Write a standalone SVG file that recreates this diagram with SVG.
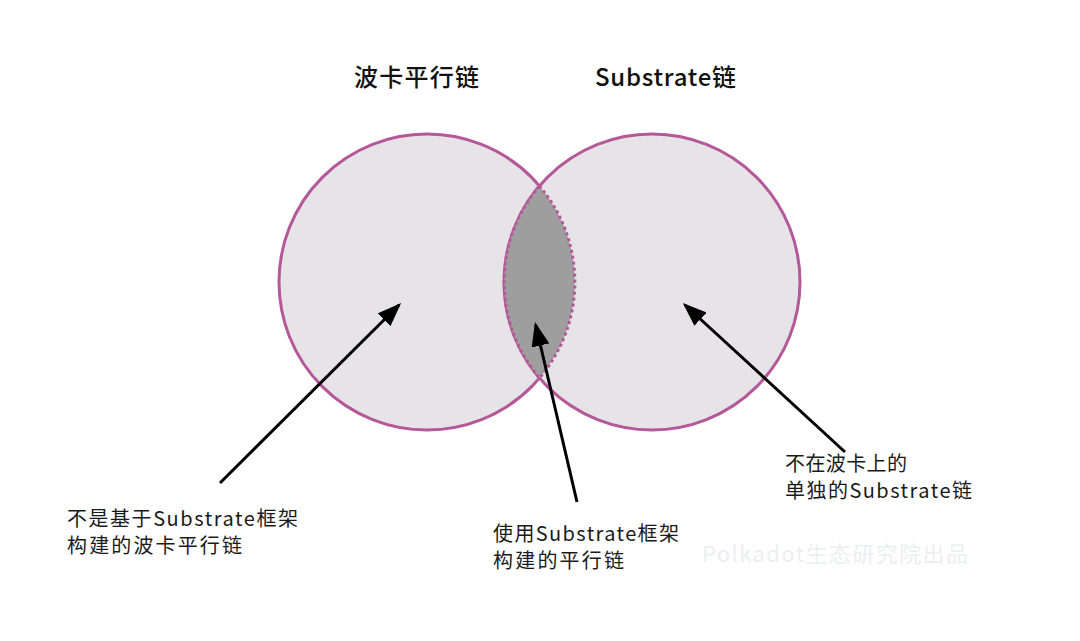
<svg xmlns="http://www.w3.org/2000/svg" width="1080" height="641" viewBox="0 0 1080 641">
<style>
.title{font-family:"Noto Sans CJK SC","Noto Sans",sans-serif;font-size:24px;font-weight:500;fill:#111}
.lbl{font-family:"Noto Sans CJK SC","Noto Sans",sans-serif;font-size:20px;fill:#1a1a1a}
.wm{font-family:"Noto Sans CJK SC","Noto Sans",sans-serif;font-size:22px;fill:#eceef1}
.circ{fill:#e6e4e6;stroke:#b5589a;stroke-width:3}
.arr{stroke:#000;stroke-width:3;fill:none;marker-end:url(#ah)}
</style>
<defs>
<marker id="ah" markerWidth="8" markerHeight="6" refX="7" refY="3" orient="auto" markerUnits="strokeWidth">
<path d="M0,0 L8,3 L0,6 Z" fill="#000"/>
</marker>
</defs>
<rect width="1080" height="641" fill="#fff"/>
<g id="title-left"><text class="title" x="354" y="86" textLength="125">波卡平行链</text></g>
<g id="title-right"><text class="title" x="595" y="86" textLength="141">Substrate链</text></g>
<g id="circle-left"><circle class="circ" cx="427" cy="282" r="148"/></g>
<g id="circle-right"><circle class="circ" cx="652" cy="282" r="148"/></g>
<g id="lens"><path d="M539.5,186 A148,148 0 0 1 539.5,378 A148,148 0 0 1 539.5,186 Z" fill="#9e9e9e" stroke="#b5589a" stroke-width="3" stroke-dasharray="3 3"/></g>
<g id="connectors">
<line class="arr" x1="220" y1="483" x2="399" y2="305"/>
<line class="arr" x1="577" y1="502" x2="535.7" y2="325"/>
<line class="arr" x1="845" y1="452" x2="685" y2="305"/>
</g>
<g id="label-left">
<text class="lbl" x="67" y="526" textLength="231">不是基于Substrate框架</text>
<text class="lbl" x="67" y="553" textLength="175">构建的波卡平行链</text>
</g>
<g id="label-middle">
<text class="lbl" x="493" y="541" textLength="186">使用Substrate框架</text>
<text class="lbl" x="493" y="568" textLength="131">构建的平行链</text>
</g>
<g id="label-right">
<text class="lbl" x="785" y="471" textLength="122">不在波卡上的</text>
<text class="lbl" x="785" y="498" textLength="187">单独的Substrate链</text>
</g>
<g id="watermark"><text class="wm" x="702" y="562" textLength="266">Polkadot生态研究院出品</text></g>
</svg>
